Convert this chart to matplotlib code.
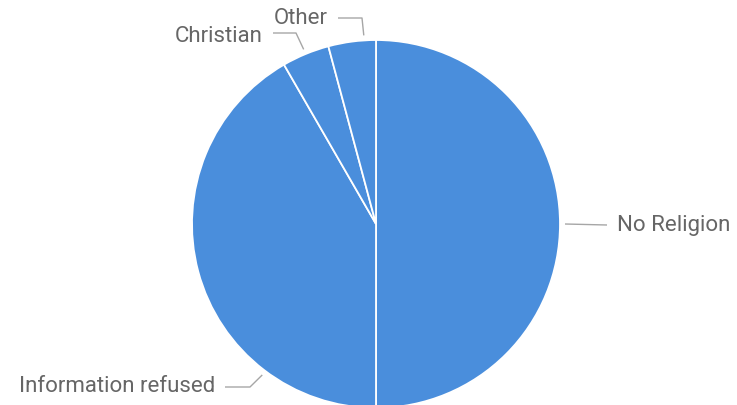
import numpy as np
import matplotlib
matplotlib.use("Agg")
import matplotlib.pyplot as plt

# religion breakdown (counts)
labels = ["No Religion", "Information refused", "Christian", "Other"]
values = [12, 10, 1, 1]

W, H = 737, 406
CX, CY, R = 376, 225, 184  # pie centre / radius in pixels (y from top)

# label layout: angle of leader start (deg, clockwise from top), elbow, text anchor
label_layout = {
    "No Religion": dict(angle=90, elbow=(607, 226), text=(617, 226), ha="left"),
    "Information refused": dict(angle=217, elbow=(250, 388), text=(215, 387), ha="right"),
    "Christian": dict(angle=337.5, elbow=(296, 34), text=(263, 36), ha="right"),
    "Other": dict(angle=356.3, elbow=(362, 19), text=(328, 19), ha="right"),
}

plt.rcParams["font.family"] = ["Roboto", "DejaVu Sans"]

fig = plt.figure(figsize=(W / 100, H / 100), dpi=100)
ax = fig.add_axes([0, 0, 1, 1])


def py(y):
    return H - y


ax.pie(values, center=(CX, py(CY)), radius=R, startangle=90, counterclock=False,
       colors=["#4A8EDC"] * len(values),
       wedgeprops=dict(edgecolor="white", linewidth=1.3), frame=True)
ax.set_xlim(0, W)
ax.set_ylim(0, H)
ax.axis("off")

line_color = "#A6A6A6"
text_color = "#666666"
for lab in labels:
    lay = label_layout[lab]
    a = np.deg2rad(lay["angle"])
    r0 = R + 5
    sx = CX + r0 * np.sin(a)
    sy = CY - r0 * np.cos(a)
    ex, ey = lay["elbow"]
    tx, ty = lay["text"]
    hx = tx - 10 if lay["ha"] == "left" else tx + 10
    ax.plot([sx, ex, hx], [py(sy), py(ey), py(ey)], color=line_color, lw=1.0,
            solid_capstyle="butt")
    ax.text(tx, py(ty), lab, ha=lay["ha"], va="center", fontsize=16,
            color=text_color)

fig.savefig("out.png", dpi=100)
